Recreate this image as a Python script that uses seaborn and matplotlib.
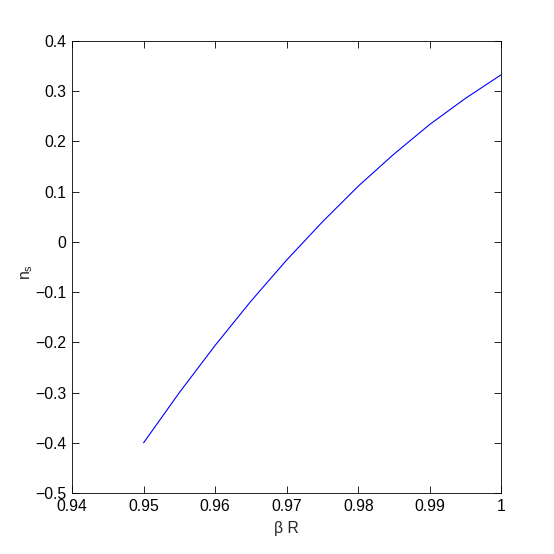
import numpy as np
import pandas as pd
import matplotlib
matplotlib.use('Agg')
import matplotlib.pyplot as plt
import seaborn as sns

# values
beta_r = [0.950, 0.955, 0.960, 0.965, 0.970, 0.975, 0.980, 0.985, 0.990, 0.995, 1.000]
n_s = [-0.400, -0.300, -0.206, -0.118, -0.036, 0.040, 0.111, 0.175, 0.234, 0.286, 0.333]

x_ticks = [0.94, 0.95, 0.96, 0.97, 0.98, 0.99, 1.0]
x_labels = ['0.94', '0.95', '0.96', '0.97', '0.98', '0.99', '1']
y_ticks = [-0.5, -0.4, -0.3, -0.2, -0.1, 0, 0.1, 0.2, 0.3, 0.4]
y_labels = ['\u22120.5', '\u22120.4', '\u22120.3', '\u22120.2', '\u22120.1', '0', '0.1', '0.2', '0.3', '0.4']

df = pd.DataFrame({'beta_r': beta_r, 'n_s': n_s})

sns.set_style('ticks')
plt.rcParams['font.family'] = ['Liberation Sans Narrow', 'Liberation Sans', 'DejaVu Sans']
plt.rcParams['font.size'] = 11.3
plt.rcParams['mathtext.fontset'] = 'custom'
plt.rcParams['mathtext.rm'] = 'Liberation Sans'

fig = plt.figure(figsize=(5.54, 5.54), dpi=100)
ax = fig.add_axes([0.13, 0.11, 0.775, 0.816])

sns.lineplot(data=df, x='beta_r', y='n_s', color='#0000ff', linewidth=0.8, ax=ax)

ax.set_xlim(0.94, 1.0)
ax.set_ylim(-0.5, 0.4)
ax.set_xticks(x_ticks)
ax.set_xticklabels(x_labels)
ax.set_yticks(y_ticks)
ax.set_yticklabels(y_labels)

ax.tick_params(direction='in', length=5, width=0.6, top=True, right=True,
               labelsize=11.3, colors='black', pad=4)
for side in ax.spines.values():
    side.set_visible(True)
    side.set_linewidth(0.6)
    side.set_color('black')

ax.set_xlabel('\u03b2 R', fontsize=11.3, labelpad=5)
ax.set_ylabel('$\\mathregular{n_s}$', fontsize=11.3)
ax.yaxis.set_label_coords(-0.086, 0.49)

fig.savefig('out.png', dpi=100, facecolor='white')
